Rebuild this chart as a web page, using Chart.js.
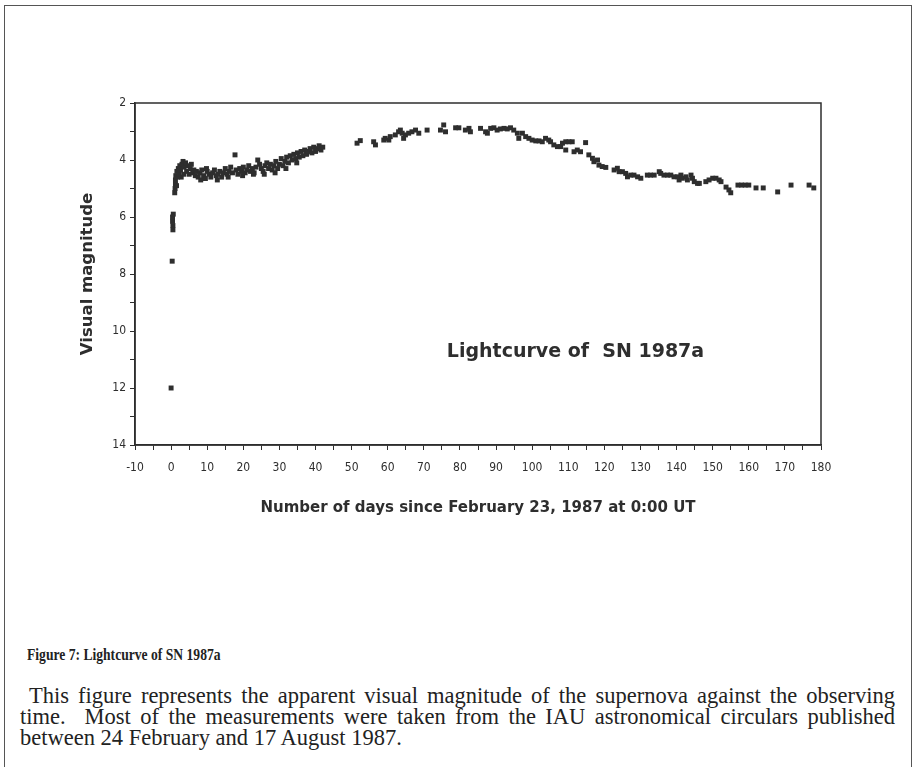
<!DOCTYPE html>
<html>
<head>
<meta charset="utf-8">
<script src="https://cdn.jsdelivr.net/npm/chart.js@4.4.0/dist/chart.umd.min.js"></script>
<style>
  body { margin: 0; background: #fff; }
  #page { position: relative; width: 914px; height: 767px; overflow: hidden; }
  #frame { position: absolute; left: 4px; top: 5px; width: 906px; height: 800px;
           border: 1px solid #555; border-bottom: none; }
  #chartBox { position: absolute; left: 0; top: 0; }
  #figTitle { position: absolute; left: 27px; top: 646px; font: bold 16px "Liberation Serif", serif; color: #222;
              transform: scaleX(0.85); transform-origin: left top; }
  #figText { position: absolute; left: 20px; top: 685px; width: 875px; font: 22.5px/21px "Liberation Serif", serif;
             color: #222; }
  #figText div { text-align: justify; text-align-last: justify; white-space: nowrap; }
  #figText div.last { text-align-last: left; }
</style>
</head>
<body>
<div id="page">
  <div id="frame"></div>
  <div id="chartBox"><canvas id="myChart" width="914" height="560"></canvas></div>
  <div id="figTitle">Figure 7: Lightcurve of SN 1987a</div>
  <div id="figText">
    <div>&nbsp;This figure represents the apparent visual magnitude of the supernova against the observing</div>
    <div>time.&nbsp; Most of the measurements were taken from the IAU astronomical circulars published</div>
    <div class="last">between 24 February and 17 August 1987.</div>
  </div>
</div>
<script>
// days since Feb 23, 1987 0:00 UT
const days = [
  0, 0.3, 0.4, 0.4, 0.5, 0.5, 0.6,
  1.0, 1.1, 1.2, 1.2, 1.3, 1.5, 1.6, 1.8, 2.0, 2.2, 2.4, 2.6, 2.8,
  3.0, 3.3, 3.5, 3.6, 4.0, 4.3, 4.6, 5.0, 5.3, 5.6, 6.0, 6.3, 6.7, 7.0,
  7.5, 8.0, 8.2, 8.5, 9.0, 9.5, 9.8, 10, 10.5, 11, 11.5, 12, 12.5, 12.8, 13, 13.5, 14, 14.5, 15, 15.5, 15.8, 16,
  16.5, 17, 17.7, 18, 18.5, 19, 19.5, 19.8, 20, 20.5, 21, 21.5, 22, 22.5, 22.8, 23, 23.5, 24, 24.5, 25,
  25.5, 25.8, 26, 26.5, 27, 27.5, 28, 28.5, 28.8, 29, 29.5, 30, 30.5, 31, 31.5, 31.8, 32, 32.5, 33, 33.5, 34, 34.5, 34.8,
  35, 35.5, 36, 36.5, 37, 37.5, 38, 38.5, 39, 39.5, 40, 40.5, 41, 41.5, 42,
  51.5, 52.4, 56.1, 56.6, 58.9, 59.3, 60.3, 60.7, 62.1, 63.0, 63.5, 64.0, 64.4, 64.9,
  65.8, 66.7, 67.7, 68.6, 70.9, 74.6, 75.5, 76.0, 78.8, 79.7, 81.5, 82.5, 82.9, 85.7, 87.1,
  87.6, 88.5, 89.4, 90.3, 91.2, 92.2, 93.1, 94.0, 94.9, 95.9, 96.3, 97.3, 98.2, 99.1,
  100.0, 101.0, 101.9, 102.8, 103.7, 104.6, 105.1, 106.0, 107.0, 107.9,
  108.4, 109.3, 110.2, 111.1, 109.3, 111.6, 112.5, 113.4, 114.8, 115.7, 116.7, 117.1, 118.1,
  118.5, 119.4, 120.4, 122.7, 123.6, 124.1, 125.0, 125.9, 126.4, 127.3, 128.2, 129.2, 130.1,
  131.9, 132.8, 133.8, 135.2, 135.6, 136.5, 137.5, 138.4, 139.3, 140.3, 140.7, 141.2, 141.6,
  142.6, 143.0, 144.0, 144.4, 144.9, 145.8, 146.3, 148.1, 149.0, 150.0, 150.9, 151.8, 152.3,
  153.7, 154.5, 155.0, 157.0, 158.0, 159.0, 160.0, 162.0, 164.0, 168.0, 171.7, 176.7, 178.0
];
// visual magnitude
const mags = [
  12.0, 7.55, 6.0, 6.15, 6.3, 6.45, 5.9,
  5.15, 5.0, 4.85, 4.7, 4.55, 4.9, 4.4, 4.6, 4.3, 4.5, 4.2, 4.35, 4.6,
  4.15, 4.05, 4.5, 4.25, 4.1, 4.4, 4.2, 4.5, 4.3, 4.15, 4.45, 4.35, 4.55, 4.4,
  4.6, 4.45, 4.7, 4.35, 4.55, 4.65, 4.3, 4.4, 4.5, 4.6, 4.45, 4.35, 4.55, 4.7, 4.5, 4.4, 4.6, 4.45, 4.3, 4.5, 4.6, 4.4,
  4.25, 4.45, 3.82, 4.35, 4.5, 4.3, 4.4, 4.55, 4.25, 4.45, 4.35, 4.2, 4.4, 4.3, 4.5, 4.45, 4.25, 4.0, 4.15, 4.3,
  4.4, 4.5, 4.2, 4.1, 4.3, 4.15, 4.35, 4.2, 4.45, 4.05, 4.3, 4.15, 3.95, 4.2, 4.05, 4.3, 3.9, 4.1, 3.85, 4.0, 3.8, 3.95, 4.1,
  3.75, 3.9, 3.7, 3.85, 3.65, 3.8, 3.7, 3.6, 3.75, 3.55, 3.7, 3.6, 3.5, 3.65, 3.55,
  3.41, 3.32, 3.36, 3.47, 3.30, 3.24, 3.30, 3.18, 3.12, 3.01, 2.95, 3.06, 3.24, 3.12,
  3.06, 3.01, 2.95, 3.06, 2.95, 2.95, 2.77, 3.01, 2.87, 2.87, 2.95, 2.89, 3.01, 2.89, 3.01,
  3.06, 2.89, 2.87, 2.95, 2.91, 2.89, 2.91, 2.87, 2.95, 3.06, 3.24, 3.06, 3.18, 3.24,
  3.30, 3.33, 3.33, 3.36, 3.24, 3.30, 3.36, 3.47, 3.53, 3.53,
  3.41, 3.36, 3.36, 3.36, 3.65, 3.71, 3.65, 3.71, 3.39, 3.82, 3.94, 4.06, 4.0,
  4.18, 4.23, 4.26, 4.35, 4.29, 4.41, 4.41, 4.47, 4.59, 4.53, 4.53, 4.59, 4.64,
  4.53, 4.53, 4.53, 4.41, 4.47, 4.53, 4.53, 4.53, 4.59, 4.59, 4.70, 4.53, 4.64,
  4.59, 4.70, 4.53, 4.64, 4.76, 4.82, 4.82, 4.76, 4.70, 4.64, 4.64, 4.70, 4.76,
  4.95, 5.05, 5.15, 4.88, 4.88, 4.88, 4.88, 4.98, 4.98, 5.12, 4.88, 4.88, 4.98
];
const yTickLabels = [2, 4, 6, 8, 10, 12, 14];
const xTickLabels = [-10, 0, 10, 20, 30, 40, 50, 60, 70, 80, 90, 100, 110, 120, 130, 140, 150, 160, 170, 180];

const points = days.map((d, i) => ({ x: d, y: mags[i] }));
const ink = '#2e2e2e';
const tickFont = { family: '"DejaVu Sans Condensed", "Liberation Sans Narrow", sans-serif', size: 12 };

// frame round the plot and the caption inside it
const framePlugin = {
  id: 'frame',
  afterDatasetsDraw(chart) {
    const { ctx, chartArea: a, scales } = chart;
    ctx.save();
    ctx.strokeStyle = ink;
    ctx.lineWidth = 1.5;
    ctx.strokeRect(a.left, a.top, a.right - a.left, a.bottom - a.top);
    ctx.fillStyle = ink;
    ctx.font = 'bold 19px "DejaVu Sans", sans-serif';
    ctx.textAlign = 'center';
    ctx.textBaseline = 'middle';
    ctx.fillText('Lightcurve of  SN 1987a', scales.x.getPixelForValue(112), scales.y.getPixelForValue(10.75));
    ctx.restore();
  }
};

new Chart(document.getElementById('myChart'), {
  type: 'scatter',
  data: {
    datasets: [{
      data: points,
      pointStyle: 'rect',
      pointRadius: 3.5,
      backgroundColor: ink,
      borderWidth: 0
    }]
  },
  options: {
    responsive: false,
    animation: false,
    layout: { padding: { left: 75, top: 103, right: 93, bottom: 39 } },
    plugins: { legend: { display: false }, tooltip: { enabled: false } },
    scales: {
      x: {
        type: 'linear',
        min: -10, max: 180,
        afterFit(scale) { scale.height = 76; },
        ticks: {
          stepSize: 5, autoSkip: false, maxRotation: 0, padding: 11,
          color: ink, font: tickFont,
          callback: v => xTickLabels.includes(v) ? v : ''
        },
        grid: { drawOnChartArea: false, tickLength: 5, tickColor: ink },
        border: { color: ink, width: 1.5 },
        title: {
          display: true, text: 'Number of days since February 23, 1987 at 0:00 UT',
          color: ink, font: { family: '"DejaVu Sans", sans-serif', size: 15, weight: 'bold' }
        }
      },
      y: {
        type: 'linear',
        reverse: true,
        min: 2, max: 14,
        afterFit(scale) { scale.width = 60; },
        ticks: {
          stepSize: 1, autoSkip: false, padding: 4,
          color: ink, font: tickFont,
          callback: v => yTickLabels.includes(v) ? v : ''
        },
        grid: { drawOnChartArea: false, tickLength: 5, tickColor: ink },
        border: { color: ink, width: 1.5 },
        title: {
          display: true, text: 'Visual magnitude', padding: { top: 3 },
          color: ink, font: { family: '"DejaVu Sans", sans-serif', size: 16.5, weight: 'bold' }
        }
      }
    }
  },
  plugins: [framePlugin]
});
</script>
</body>
</html>
